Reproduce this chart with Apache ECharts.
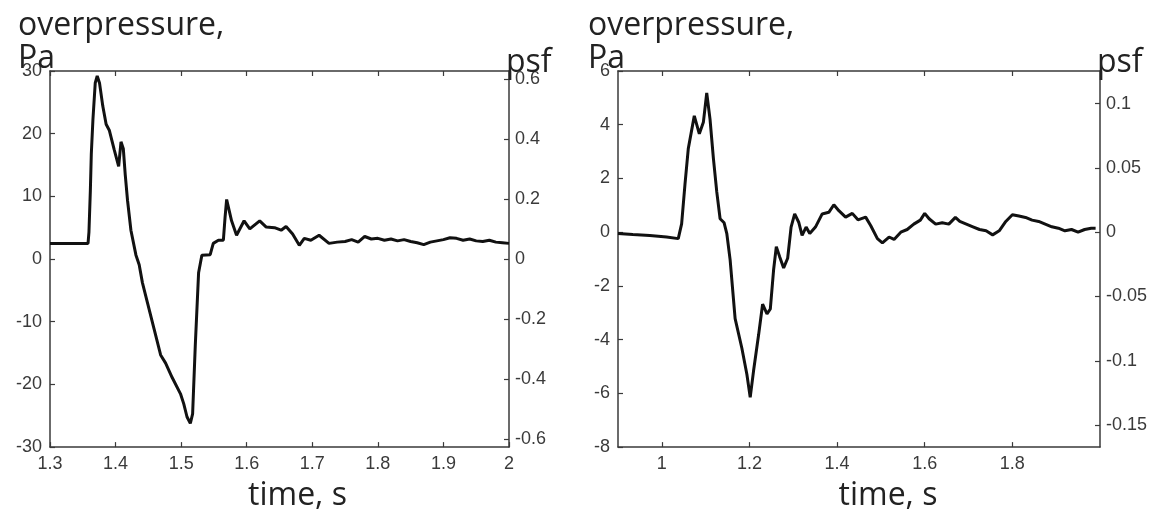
<!DOCTYPE html>
<html>
<head>
<meta charset="utf-8">
<script src="https://cdn.jsdelivr.net/npm/echarts@6/dist/echarts.min.js"></script>
<style>
html,body{margin:0;padding:0;background:#fff;}
#main{width:1158px;height:519px;}
</style>
</head>
<body>
<div id="main"></div>
<script>
// ---- data: left panel ----
const timeA = [1.300,1.358,1.3594,1.3615,1.363,1.3655,1.369,1.372,1.3755,1.3805,1.3856,1.3906,1.398,1.4047,1.4083,1.4118,1.4148,1.4183,1.4234,1.431,1.436,1.441,1.4485,1.4586,1.4687,1.4763,1.4863,1.499,1.504,1.509,1.514,1.5175,1.5216,1.5266,1.5316,1.5443,1.549,1.5568,1.5644,1.567,1.5694,1.5769,1.5845,1.596,1.6047,1.6198,1.6298,1.6424,1.6525,1.66,1.67,1.6802,1.6878,1.6978,1.7104,1.7255,1.738,1.75,1.76,1.77,1.78,1.79,1.80,1.81,1.82,1.83,1.84,1.85,1.86,1.87,1.88,1.89,1.90,1.91,1.92,1.93,1.94,1.95,1.96,1.97,1.98,1.99,2.0];
const paA = [2.5,2.5,4.3,10.8,16.8,22.3,28.1,29.2,28.1,24.4,21.5,20.5,17.4,14.8,18.7,17.6,13.4,9.3,4.6,0.66,-0.9,-3.8,-6.9,-11.1,-15.3,-16.6,-18.9,-21.5,-23.1,-25.2,-26.2,-24.7,-13.7,-2.2,0.6,0.7,2.5,3.0,3.0,6.7,9.5,6.1,3.8,6.1,4.8,6.1,5.1,5.0,4.6,5.2,4.0,2.2,3.3,3.0,3.8,2.5,2.7,2.8,3.1,2.7,3.6,3.2,3.3,3.0,3.2,2.9,3.1,2.8,2.6,2.3,2.7,2.9,3.1,3.4,3.3,3.0,3.2,2.9,2.8,3.0,2.7,2.6,2.5];
// ---- data: right panel ----
const timeB = [0.9,0.934,0.9726,1.0109,1.0375,1.0452,1.0528,1.0604,1.0741,1.0856,1.0948,1.1025,1.11,1.1177,1.1254,1.133,1.1422,1.1483,1.1559,1.1673,1.1827,1.1941,1.2017,1.2093,1.2208,1.23,1.24,1.2476,1.2551,1.2613,1.2689,1.278,1.2872,1.295,1.3032,1.3124,1.3201,1.3293,1.3376,1.3506,1.366,1.3811,1.3926,1.404,1.4194,1.4347,1.4476,1.4652,1.4766,1.492,1.5034,1.5186,1.53,1.5454,1.56,1.575,1.59,1.6,1.61,1.625,1.64,1.655,1.67,1.68,1.695,1.71,1.725,1.74,1.755,1.77,1.785,1.8,1.815,1.83,1.845,1.86,1.875,1.89,1.905,1.92,1.935,1.95,1.965,1.98,1.99];
const paB = [-0.05,-0.09,-0.12,-0.18,-0.24,0.31,1.77,3.11,4.33,3.66,4.09,5.18,4.21,2.75,1.5,0.5,0.35,-0.05,-1.03,-3.22,-4.32,-5.29,-6.15,-5.17,-3.83,-2.68,-3.04,-2.86,-1.40,-0.54,-0.91,-1.33,-0.97,0.19,0.68,0.37,-0.12,0.19,-0.05,0.19,0.68,0.74,1.02,0.80,0.56,0.70,0.46,0.56,0.25,-0.24,-0.40,-0.18,-0.27,0.0,0.1,0.3,0.45,0.7,0.5,0.3,0.35,0.3,0.55,0.4,0.3,0.2,0.1,0.05,-0.1,0.05,0.4,0.65,0.6,0.55,0.45,0.4,0.3,0.2,0.15,0.05,0.1,0.0,0.1,0.15,0.15];
// ---- axis ticks ----
const xTicksB = [1,1.2,1.4,1.6,1.8];
const psfTicksA = [-0.6,-0.4,-0.2,0,0.2,0.4,0.6];
const psfTicksB = [-0.15,-0.1,-0.05,0,0.05,0.1];
const PA_PER_PSF = 47.88;

const axisCol = '#3a3a3a';
const labelStyle = {color:'#3a3a3a', fontFamily:'"Liberation Sans", Arial, sans-serif', fontSize:18};
const bigFont = {fontFamily:'"Open Sans", sans-serif', fontSize:32, color:'#222', fontWeight:'normal'};
const fmt = v => String(Math.round(v*1000)/1000);

function xAxes(gi, min, max, interval, custom, nameShift){
  const base = {type:'value', gridIndex:gi, min:min, max:max, splitLine:{show:false},
    axisLine:{show:true, onZero:false, lineStyle:{color:axisCol, width:1.5}},
    axisTick:{show:true, inside:true, length:5, lineStyle:{color:axisCol, width:1.2}}};
  if (interval) base.interval = interval;
  const bottom = Object.assign({}, base, {position:'bottom',
    name:'time, s', nameLocation:'middle', nameGap:28,
    nameTextStyle:Object.assign({lineHeight:36, padding:[0,0,0,nameShift]}, bigFont),
    axisLabel:Object.assign({margin:8, formatter:fmt}, labelStyle)});
  const top = Object.assign({}, base, {position:'top', axisLabel:{show:false}});
  if (custom){
    bottom.axisTick = Object.assign({}, base.axisTick, {customValues:custom});
    bottom.axisLabel.customValues = custom;
    top.axisTick = Object.assign({}, base.axisTick, {customValues:custom});
  }
  return [bottom, top];
}
function yAxes(gi, min, max, interval, psfTicks){
  return [
    {type:'value', gridIndex:gi, position:'left', min:min, max:max, interval:interval, splitLine:{show:false},
     axisLine:{show:true, onZero:false, lineStyle:{color:axisCol, width:1.5}},
     axisTick:{show:true, inside:true, length:5, lineStyle:{color:axisCol, width:1.2}},
     axisLabel:Object.assign({margin:8, formatter:fmt}, labelStyle)},
    {type:'value', gridIndex:gi, position:'right', min:min/PA_PER_PSF, max:max/PA_PER_PSF, splitLine:{show:false},
     axisLine:{show:true, onZero:false, lineStyle:{color:axisCol, width:1.5}},
     axisTick:{show:true, inside:true, length:5, customValues:psfTicks, lineStyle:{color:axisCol, width:1.2}},
     axisLabel:Object.assign({margin:6, customValues:psfTicks, formatter:fmt}, labelStyle)}
  ];
}

const xa = xAxes(0, 1.3, 2.0, 0.1, null, 36);
const xb = xAxes(1, 0.9, 2.0, null, xTicksB, 58);
const ya = yAxes(0, -30, 30, 10, psfTicksA);
const yb = yAxes(1, -8, 6, 2, psfTicksB);

const chart = echarts.init(document.getElementById('main'), null, {renderer:'canvas'});
chart.setOption({
  backgroundColor:'#fff',
  animation:false,
  title:[
    {text:'overpressure,\nPa', left:18, top:9, padding:0, textStyle:Object.assign({lineHeight:33}, bigFont)},
    {text:'overpressure,\nPa', left:588, top:9, padding:0, textStyle:Object.assign({lineHeight:33}, bigFont)},
    {text:'psf', left:506, top:47, padding:0, textStyle:Object.assign({lineHeight:32}, bigFont)},
    {text:'psf', left:1097, top:47, padding:0, textStyle:Object.assign({lineHeight:32}, bigFont)}
  ],
  grid:[
    {left:50, right:649, top:71, bottom:65},
    {left:618, right:58, top:71, bottom:65}
  ],
  xAxis:[xa[0], xa[1], xb[0], xb[1]],
  yAxis:[ya[0], ya[1], yb[0], yb[1]],
  series:[
    {type:'line', xAxisIndex:0, yAxisIndex:0, showSymbol:false, data:timeA.map((t,i)=>[t,paA[i]]),
     lineStyle:{color:'#111', width:3}, itemStyle:{color:'#111'}},
    {type:'line', xAxisIndex:2, yAxisIndex:2, showSymbol:false, data:timeB.map((t,i)=>[t,paB[i]]),
     lineStyle:{color:'#111', width:3}, itemStyle:{color:'#111'}}
  ]
});
</script>
</body>
</html>
